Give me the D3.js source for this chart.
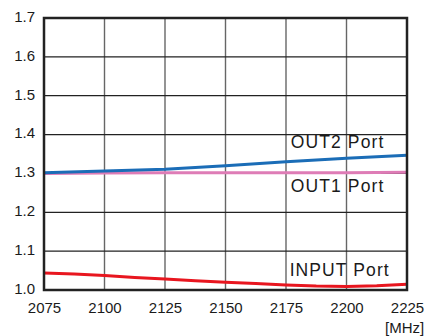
<!DOCTYPE html>
<html><head><meta charset="utf-8">
<script src="https://cdn.jsdelivr.net/npm/d3@7"></script>
<style>html,body{margin:0;padding:0;background:#fff;overflow:hidden}</style>
</head><body>
<svg id="c" width="427" height="336"></svg>
<script>
const freqTicks = [2075, 2100, 2125, 2150, 2175, 2200, 2225];
const vswrTicks = [1.0, 1.1, 1.2, 1.3, 1.4, 1.5, 1.6, 1.7];
const out2Freq = [2075, 2100, 2125, 2150, 2175, 2200, 2225];
const out2Vals = [1.302, 1.306, 1.311, 1.320, 1.330, 1.339, 1.347];
const out1Freq = [2075, 2100, 2125, 2150, 2175, 2200, 2225];
const out1Vals = [1.300, 1.301, 1.302, 1.302, 1.302, 1.302, 1.303];
const inFreq = [2075, 2087.5, 2100, 2112.5, 2125, 2137.5, 2150, 2162.5, 2175, 2187.5, 2200, 2212.5, 2225];
const inVals = [1.044, 1.041, 1.037, 1.032, 1.028, 1.024, 1.020, 1.017, 1.013, 1.010, 1.009, 1.011, 1.015];
const labels = [
  {text: "OUT2 Port", f: 2177, v: 1.365},
  {text: "OUT1 Port", f: 2177, v: 1.252},
  {text: "INPUT Port", f: 2176.5, v: 1.037}
];

const svg = d3.select("#c");
const L = 44, R = 407, T = 18, B = 290;
const x = d3.scaleLinear().domain([2075, 2225]).range([L, R]);
const y = d3.scaleLinear().domain([1.0, 1.7]).range([B, T]);
const font = "'Liberation Sans', Arial, sans-serif";

// vertical grid
svg.append("g").selectAll("line").data(freqTicks.slice(1, -1)).join("line")
  .attr("x1", d => x(d)).attr("x2", d => x(d)).attr("y1", T).attr("y2", B)
  .attr("stroke", "#666").attr("stroke-width", 1.4);
// horizontal grid
svg.append("g").selectAll("line").data(vswrTicks.slice(1, -1)).join("line")
  .attr("x1", L).attr("x2", R).attr("y1", d => y(d)).attr("y2", d => y(d))
  .attr("stroke", "#222").attr("stroke-width", 1.2);

const line = d3.line().x(d => x(d[0])).y(d => y(d[1]));
const series = [
  {f: out1Freq, v: out1Vals, c: "#de7cb6"},
  {f: out2Freq, v: out2Vals, c: "#1b6db7"},
  {f: inFreq, v: inVals, c: "#e8161f"}
];
series.forEach(s => {
  svg.append("path").datum(s.f.map((f, i) => [f, s.v[i]]))
    .attr("d", line).attr("fill", "none").attr("stroke", s.c).attr("stroke-width", 3);
});

// frame
svg.append("rect").attr("x", L).attr("y", T).attr("width", R - L).attr("height", B - T)
  .attr("fill", "none").attr("stroke", "#222").attr("stroke-width", 2.5);

// axes tick labels
const xAxis = d3.axisBottom(x).tickValues(freqTicks).tickFormat(d3.format("d")).tickSize(0).tickPadding(0);
const gx = svg.append("g").attr("transform", `translate(0,${B})`).call(xAxis);
gx.select(".domain").remove();
gx.selectAll("text").attr("y", 0).attr("dy", "22.5px").attr("font-family", font).attr("font-size", 15).attr("fill", "#1a1a1a");

const yAxis = d3.axisLeft(y).tickValues(vswrTicks).tickFormat(d3.format(".1f")).tickSize(0).tickPadding(0);
const gy = svg.append("g").attr("transform", `translate(${L - 9},0)`).call(yAxis);
gy.select(".domain").remove();
gy.selectAll("text").attr("x", 0).attr("dy", "0.22em").attr("font-family", font).attr("font-size", 15).attr("fill", "#1a1a1a");

svg.append("text").attr("x", 385).attr("y", 333).text("[MHz]")
  .attr("font-family", font).attr("font-size", 15).attr("fill", "#1a1a1a");

svg.append("g").selectAll("text").data(labels).join("text")
  .attr("x", d => x(d.f)).attr("y", d => y(d.v)).text(d => d.text)
  .attr("font-family", font).attr("font-size", 17.5).attr("letter-spacing", "1.1px").attr("fill", "#1a1a1a");
</script>
</body></html>
